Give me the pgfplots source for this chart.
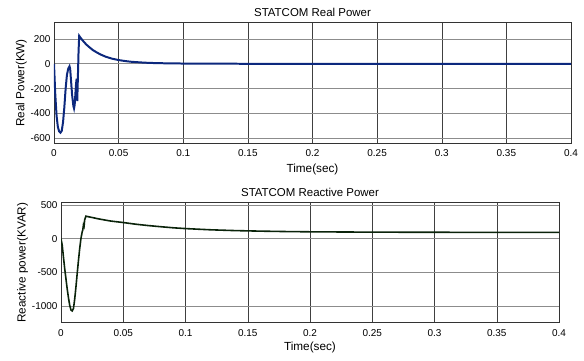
\documentclass[border=0pt]{standalone}
\usepackage{pgfplots}
\pgfplotsset{compat=1.18}
\usepackage{fontspec}
\setmainfont{Liberation Sans}
\definecolor{pblue}{RGB}{12,40,125}
\definecolor{qline}{RGB}{10,35,10}
\pgfplotsset{
  mystyle/.style={
    scale only axis,
    anchor=south west,
    xmin=0, xmax=0.4,
    xtick={0,0.05,...,0.4},
    xticklabels={0,0.05,0.1,0.15,0.2,0.25,0.3,0.35,0.4},
    grid=major,
    major x grid style={black!75, line width=0.5pt},
    major y grid style={black!45, line width=0.7pt},
    major tick length=0pt,
    axis line style={black!80, line width=0.6pt},
    tick label style={font=\fontsize{10}{11}\selectfont},
    label style={font=\fontsize{11.8}{13}\selectfont},
    title style={font=\fontsize{11.5}{13}\selectfont, yshift=-3bp},
    /pgf/number format/assume math mode=true,
    /pgf/number format/1000 sep={},
    xticklabel style={yshift=-3bp},
    ylabel style={yshift=-3bp},
  }
}
\begin{document}
\begin{tikzpicture}
\path (0bp,0bp) rectangle (584bp,361bp);
\begin{axis}[mystyle, at={(54bp,218bp)}, width=517bp, height=120.3bp,
  ymin=-638, ymax=331, ytick={-600,-400,-200,0,200},
  xlabel style={yshift=-1bp},
  title={STATCOM Real Power}, xlabel={Time(sec)}, ylabel={Real Power(KW)}]
\addplot[pblue, line width=2pt] coordinates {
(0,0) (0.001,-250) (0.002,-420) (0.003,-510) (0.004,-545) (0.005,-555)
(0.006,-540) (0.007,-470) (0.008,-350) (0.009,-200) (0.010,-90) (0.011,-40)
(0.012,-20) (0.0125,-40) (0.013,-110) (0.014,-250) (0.015,-340) (0.0155,-360)
(0.016,-330) (0.0165,-250) (0.017,-170) (0.0175,-120) (0.018,-300) (0.0185,-100)
(0.019,100) (0.0195,225) (0.021,203) (0.023,178) (0.025,155) (0.028,128)
(0.030,111) (0.033,92) (0.036,75) (0.040,57) (0.045,41) (0.050,30) (0.055,22)
(0.060,16) (0.070,9) (0.080,5) (0.1,2) (0.15,0) (0.2,0) (0.3,0) (0.4,0)
};
\end{axis}
\begin{axis}[mystyle, at={(61bp,38.3bp)}, width=498bp, height=120bp,
  ymin=-1250, ymax=535, ytick={-1000,-500,0,500},
  xlabel style={yshift=1.5bp},
  title={STATCOM Reactive Power}, xlabel={Time(sec)}, ylabel={Reactive power(KVAR)}]
\addplot[qline, line width=1.6pt] coordinates {
(0,0) (0.001,-100) (0.002,-280) (0.003,-450) (0.004,-600) (0.005,-750)
(0.006,-880) (0.007,-990) (0.008,-1060) (0.009,-1075) (0.010,-1040)
(0.011,-900) (0.012,-720) (0.013,-520) (0.014,-330) (0.015,-150) (0.016,0)
(0.017,100) (0.0175,130) (0.018,200) (0.0185,180) (0.019,280) (0.020,335)
(0.021,330) (0.025,315) (0.03,295) (0.035,278) (0.04,262) (0.05,240)
(0.06,215) (0.07,195) (0.08,178) (0.09,162) (0.10,150) (0.12,132) (0.14,120)
(0.16,112) (0.18,106) (0.20,102) (0.25,97) (0.30,95) (0.35,94) (0.40,94)
};
\end{axis}
\end{tikzpicture}
\end{document}
